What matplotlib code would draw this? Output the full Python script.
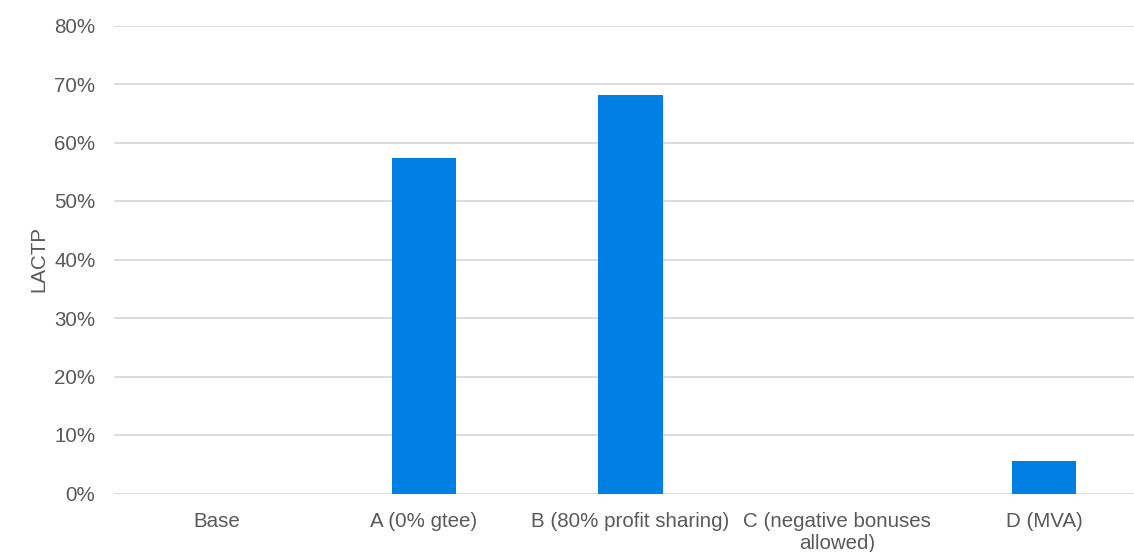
import matplotlib
matplotlib.use("Agg")
import matplotlib.pyplot as plt
from matplotlib.ticker import FuncFormatter

categories = ["Base", "A (0% gtee)", "B (80% profit sharing)",
              "C (negative bonuses\nallowed)", "D (MVA)"]
lactp = [0.0, 0.573, 0.681, 0.0, 0.055]

plt.rcParams["font.family"] = ["Liberation Sans", "DejaVu Sans"]
grey = "#595959"

fig = plt.figure(figsize=(11.34, 5.52), dpi=100)
ax = fig.add_axes([113.5 / 1134, (552 - 493.5) / 552, 1034 / 1134, 468 / 552])

x = range(len(categories))
ax.bar(x, lactp, width=0.31, color="#0180E3", zorder=3)

ax.set_xlim(-0.5, len(categories) - 0.5)
ax.set_ylim(0, 0.8)
ax.set_yticks([i / 10 for i in range(9)])
ax.yaxis.set_major_formatter(FuncFormatter(lambda v, p: f"{v * 100:.0f}%"))
ax.set_xticks(list(x))
ax.set_xticklabels(categories, linespacing=1.25)

ax.grid(axis="y", color="#d9d9d9", linewidth=1.3, zorder=0)
ax.grid(axis="x", visible=False)
for s in ax.spines.values():
    s.set_visible(False)
ax.tick_params(axis="both", length=0, labelsize=14.8, colors=grey)
ax.tick_params(axis="y", pad=13)
ax.tick_params(axis="x", pad=13)
ax.set_ylabel("LACTP", fontsize=14.8, color=grey, labelpad=4)

fig.savefig("out.png", dpi=100)
